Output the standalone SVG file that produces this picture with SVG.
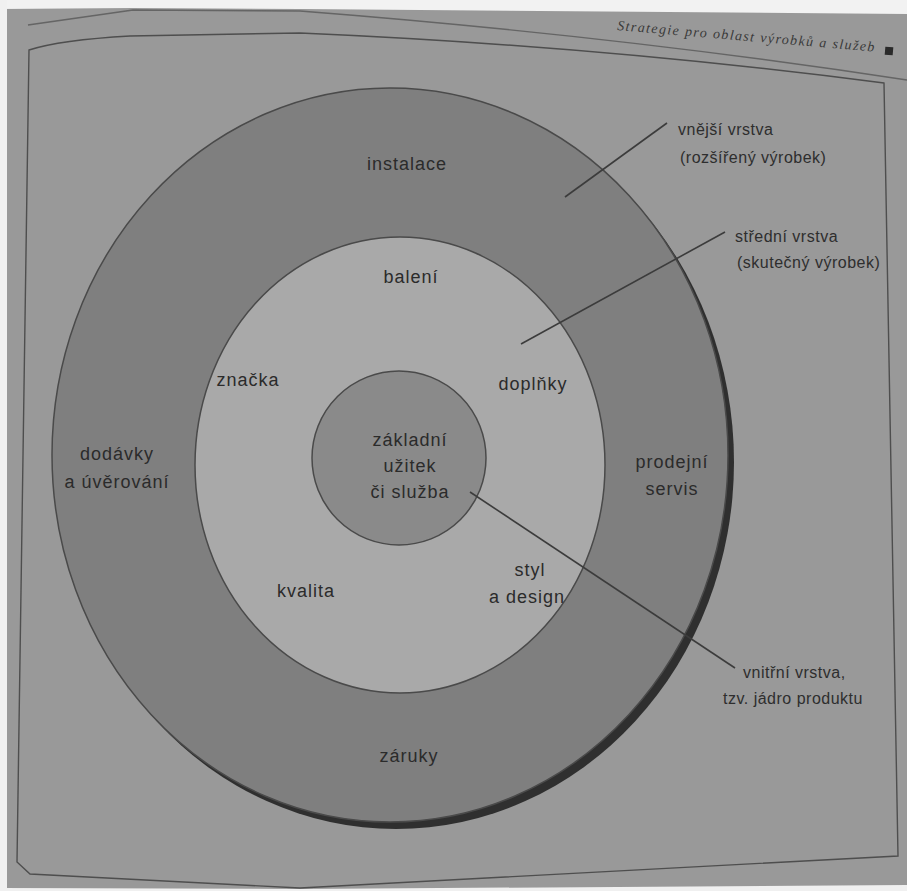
<svg xmlns="http://www.w3.org/2000/svg" width="907" height="891" viewBox="0 0 907 891">
<style>
  .lbl { font-family: "Liberation Sans", Arial, sans-serif; font-size: 18px; fill: #2b2b2b; text-anchor: middle; letter-spacing: 1px; }
  .note { font-family: "Liberation Sans", Arial, sans-serif; font-size: 16px; fill: #2e2e2e; letter-spacing: 0.5px; }
  .ring { stroke: #4a4a4a; stroke-width: 1.5; }
  .conn { stroke: #3c3c3c; stroke-width: 1.6; fill: none; }
  .frame { stroke: #4e4e4e; stroke-width: 1.4; fill: none; }
</style>
<!-- page -->
<rect x="0" y="0" width="907" height="891" fill="#999999"/>
<polygon points="0,0 907,0 907,14 300,9 133,8 0,9" fill="#f2f2f2"/>
<rect x="0" y="0" width="7" height="891" fill="#f0f0f0"/>
<polygon points="0,891 907,891 907,885 300,889 0,888" fill="#f0f0f0"/>
<g id="frame">
  <path class="frame" d="M28,25 L133,10 L300,11 Q620,36 907,80" stroke-opacity="0.7"/>
  <path class="frame" d="M17,862 L29,50 Q60,40 130,36 L300,33 Q600,46 884,83 L898,856 Q600,872 300,888 L30,874 Z"/>
</g>
<g id="header">
  <text x="617" y="30" transform="rotate(4.8 617 30)" font-family="Liberation Serif, serif" font-style="italic" font-size="14" fill="#3a3a3a" textLength="258">Strategie pro oblast výrobků a služeb</text>
  <rect x="885" y="47" width="8" height="8" fill="#2a2a2a" transform="rotate(4.8 889 51)"/>
</g>
<g id="layer-outer">
  <ellipse cx="396" cy="462" rx="338" ry="367" fill="#2f2f2f"/>
  <ellipse class="ring" cx="390" cy="455" rx="338" ry="367" fill="#7f7f7f"/>
  <text class="lbl" x="407" y="170">instalace</text>
  <text class="lbl" x="117" y="460">dodávky</text>
  <text class="lbl" x="117" y="488">a úvěrování</text>
  <text class="lbl" x="672" y="468">prodejní</text>
  <text class="lbl" x="672" y="495">servis</text>
  <text class="lbl" x="409" y="762">záruky</text>
</g>
<g id="layer-middle">
  <ellipse class="ring" cx="400" cy="465" rx="205" ry="228" fill="#a9a9a9"/>
  <text class="lbl" x="411" y="283">balení</text>
  <text class="lbl" x="248" y="386">značka</text>
  <text class="lbl" x="533" y="390">doplňky</text>
  <text class="lbl" x="306" y="597">kvalita</text>
  <text class="lbl" x="530" y="576">styl</text>
  <text class="lbl" x="527" y="603">a design</text>
</g>
<g id="layer-inner">
  <ellipse class="ring" cx="399" cy="458" rx="87" ry="87" fill="#8a8a8a"/>
  <text class="lbl" x="410" y="446">základní</text>
  <text class="lbl" x="410" y="472">užitek</text>
  <text class="lbl" x="410" y="498">či služba</text>
</g>
<g id="connectors">
  <line class="conn" x1="565" y1="197" x2="667" y2="123"/>
  <line class="conn" x1="521" y1="344" x2="725" y2="232"/>
  <line class="conn" x1="470" y1="492" x2="735" y2="668"/>
</g>
<g id="note-outer">
  <text class="note" x="678" y="135">vnější vrstva</text>
  <text class="note" x="680" y="163">(rozšířený výrobek)</text>
</g>
<g id="note-middle">
  <text class="note" x="735" y="242">střední vrstva</text>
  <text class="note" x="737" y="268">(skutečný výrobek)</text>
</g>
<g id="note-inner">
  <text class="note" x="743" y="678">vnitřní vrstva,</text>
  <text class="note" x="723" y="704">tzv. jádro produktu</text>
</g>
</svg>
